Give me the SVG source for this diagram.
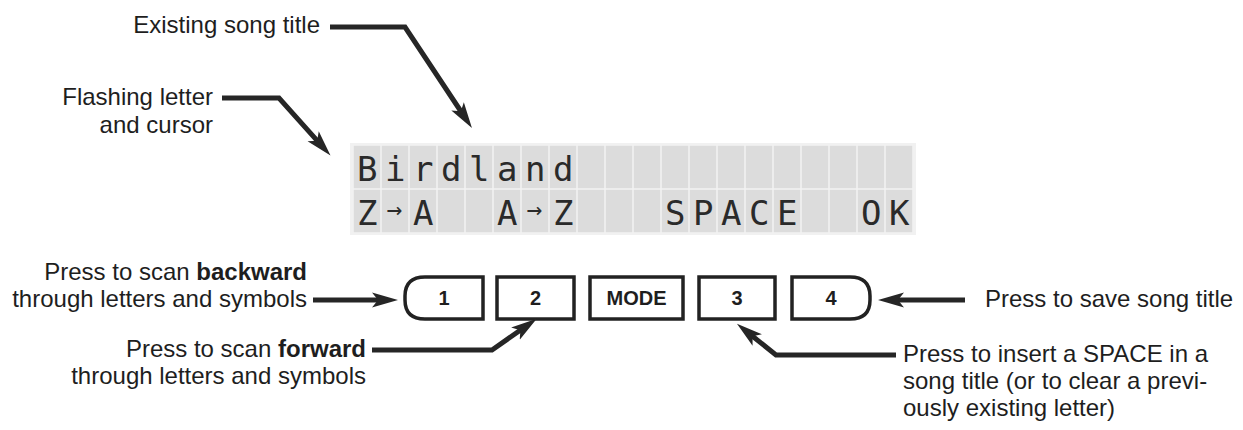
<svg xmlns="http://www.w3.org/2000/svg" width="1243" height="430" viewBox="0 0 1243 430">
<style>
.lbl{font-family:"Liberation Sans",Arial,sans-serif;font-size:24px;fill:#1e1e1e}
.b{font-weight:bold}
.key{font-family:"Liberation Sans",Arial,sans-serif;font-size:20px;font-weight:bold;fill:#1e1e1e;text-anchor:middle}
.btn{fill:#fff;stroke:#222;stroke-width:3.5}
.lcd{font-family:"DejaVu Sans Mono",monospace;font-size:34px;fill:#2a2a2a}
.arr{font-size:26px}
.con{fill:none;stroke:#262626;stroke-width:5;marker-end:url(#ah)}
</style>
<defs>
<marker id="ah" markerUnits="userSpaceOnUse" markerWidth="28" markerHeight="20" viewBox="0 0 28 18" refX="8" refY="9" orient="auto">
<path d="M0,1.5 L26,9 L0,16.5 L6,9 Z" fill="#262626"/>
</marker>
<pattern id="cell" patternUnits="userSpaceOnUse" x="353" y="145" width="28" height="44">
<rect x="0.8" y="0.8" width="26.4" height="42.4" fill="#dcdcdc"/>
</pattern>
</defs>
<rect width="1243" height="430" fill="#fff"/>

<g id="lcd">
<rect x="350" y="143" width="566" height="92" fill="#f1f1f1"/>
<rect x="353" y="145" width="560" height="88" fill="url(#cell)"/>
<text class="lcd" x="357 385 413 441 469 497 525 553" y="181">Birdland</text>
<text class="lcd" y="225"><tspan x="357">Z</tspan><tspan class="arr" x="386.5" y="218">→</tspan><tspan x="413" y="225">A</tspan></text>
<text class="lcd" y="225"><tspan x="497">A</tspan><tspan class="arr" x="526.5" y="218">→</tspan><tspan x="553" y="225">Z</tspan></text>
<text class="lcd" x="665 693 721 749 777" y="225">SPACE</text>
<text class="lcd" x="861 889" y="225">OK</text>
</g>

<g id="btn1">
<path class="btn" d="M483,277 L425,277 Q405,277 405,296 L405,300 Q405,319 425,319 L483,319 Z"/>
<text class="key" x="444" y="305">1</text>
</g>
<g id="btn2">
<rect class="btn" x="497" y="277" width="77" height="42"/>
<text class="key" x="535.5" y="305">2</text>
</g>
<g id="btnMode">
<rect class="btn" x="590" y="277" width="93" height="42"/>
<text class="key" x="636.5" y="305">MODE</text>
</g>
<g id="btn3">
<rect class="btn" x="699" y="277" width="76" height="42"/>
<text class="key" x="737" y="305">3</text>
</g>
<g id="btn4">
<path class="btn" d="M792,277 L850,277 Q870,277 870,296 L870,300 Q870,319 850,319 L792,319 Z"/>
<text class="key" x="831" y="305">4</text>
</g>

<g id="label-existing">
<text class="lbl" x="320" y="33" text-anchor="end">Existing song title</text>
</g>
<g id="label-flashing">
<text class="lbl" text-anchor="end"><tspan x="213" y="105">Flashing letter</tspan><tspan x="213" y="133">and cursor</tspan></text>
</g>
<g id="label-backward">
<text class="lbl" text-anchor="end"><tspan x="307" y="280">Press to scan <tspan class="b">backward</tspan></tspan><tspan x="307" y="307">through letters and symbols</tspan></text>
</g>
<g id="label-save">
<text class="lbl" x="985" y="307">Press to save song title</text>
</g>
<g id="label-forward">
<text class="lbl" text-anchor="end"><tspan x="366" y="357">Press to scan <tspan class="b">forward</tspan></tspan><tspan x="366" y="384">through letters and symbols</tspan></text>
</g>
<g id="label-space">
<text class="lbl"><tspan x="903" y="362">Press to insert a SPACE in a</tspan><tspan x="903" y="389">song title (or to clear a previ-</tspan><tspan x="903" y="416">ously existing letter)</tspan></text>
</g>

<g id="connectors">
<polyline class="con" points="330,27 405,27 462,113"/>
<polyline class="con" points="222,98 279,98 318.5,142.2"/>
<polyline class="con" points="313,300 380,300"/>
<polyline class="con" points="965,300 896,300"/>
<polyline class="con" points="372,350 492,350 522,329"/>
<polyline class="con" points="896,355 776,355 751,335"/>
</g>
</svg>
